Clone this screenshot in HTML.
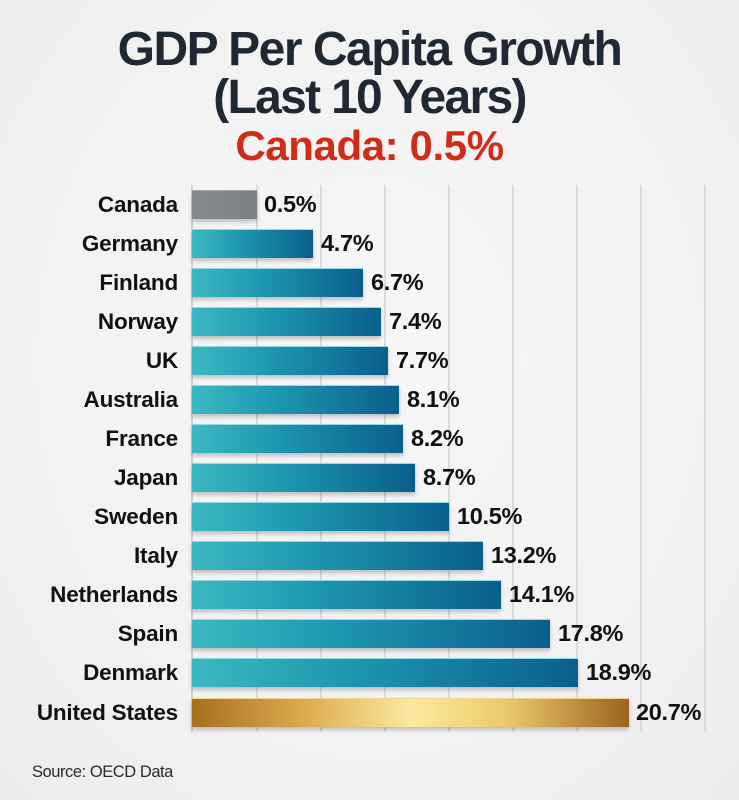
<!DOCTYPE html>
<html>
<head>
<meta charset="utf-8">
<style>
  html,body{margin:0;padding:0;}
  body{width:739px;height:800px;overflow:hidden;position:relative;
    background:radial-gradient(ellipse at 50% 45%, #f7f7f7 0%, #f2f2f2 60%, #ececec 100%);
    font-family:"Liberation Sans", Arial, sans-serif;}
  .t{position:absolute;left:0;width:739px;text-align:center;font-weight:bold;white-space:nowrap;}
  .t1{top:26px;font-size:48px;line-height:48px;letter-spacing:-1.5px;color:#1f2833;}
  .t2{top:74px;font-size:48px;line-height:48px;letter-spacing:-1.7px;color:#1f2833;}
  .t3{top:125px;font-size:42px;line-height:42px;letter-spacing:-0.4px;color:#d42a18;}
  .grid{position:absolute;top:185px;height:547px;width:1.5px;background:#dadada;}
  .lab{position:absolute;right:561px;height:29px;line-height:29px;font-size:22.5px;font-weight:bold;color:#111;letter-spacing:-0.2px;white-space:nowrap;text-align:right;}
  .val{position:absolute;height:29px;line-height:29px;font-size:23.5px;font-weight:bold;color:#111;letter-spacing:-0.3px;white-space:nowrap;}
  .bar{position:absolute;left:192px;height:29px;box-sizing:border-box;
    background:linear-gradient(90deg,#3cb7c0 0%,#1c93ae 45%,#0a5f8c 100%);
    border-top:1px solid #8fdbe3;
    box-shadow:0 3px 4px rgba(0,0,0,0.22);}
  .gray{background:linear-gradient(90deg,#858a8f,#7a8085);border-top:1px solid #a3a8ac;}
  .gold{background:linear-gradient(90deg,#a86e22 0%,#d9a94a 25%,#fbe9a0 50%,#ebc969 72%,#9a6320 100%);border-top:1px solid #f3d58a;}
  .src{position:absolute;left:32px;top:764px;font-size:16.5px;line-height:17px;color:#2a2a2a;letter-spacing:-0.45px;}
</style>
</head>
<body>
<div class="t t1">GDP Per Capita Growth</div>
<div class="t t2">(Last 10 Years)</div>
<div class="t t3">Canada: 0.5%</div>

<div class="grid" style="left:191px;background:#cfcfcf;"></div>
<div class="grid" style="left:256px;"></div>
<div class="grid" style="left:320px;"></div>
<div class="grid" style="left:384px;"></div>
<div class="grid" style="left:448px;"></div>
<div class="grid" style="left:512px;"></div>
<div class="grid" style="left:576px;"></div>
<div class="grid" style="left:640px;"></div>
<div class="grid" style="left:704px;"></div>

<div class="lab" style="top:190px;">Canada</div>
<div class="bar gray" style="top:190px;width:65px;"></div>
<div class="val" style="top:190px;left:264px;">0.5%</div>

<div class="lab" style="top:229px;">Germany</div>
<div class="bar" style="top:229px;width:121px;"></div>
<div class="val" style="top:229px;left:321px;">4.7%</div>

<div class="lab" style="top:268px;">Finland</div>
<div class="bar" style="top:268px;width:171px;"></div>
<div class="val" style="top:268px;left:371px;">6.7%</div>

<div class="lab" style="top:307px;">Norway</div>
<div class="bar" style="top:307px;width:189px;"></div>
<div class="val" style="top:307px;left:389px;">7.4%</div>

<div class="lab" style="top:346px;">UK</div>
<div class="bar" style="top:346px;width:196px;"></div>
<div class="val" style="top:346px;left:396px;">7.7%</div>

<div class="lab" style="top:385px;">Australia</div>
<div class="bar" style="top:385px;width:207px;"></div>
<div class="val" style="top:385px;left:407px;">8.1%</div>

<div class="lab" style="top:424px;">France</div>
<div class="bar" style="top:424px;width:211px;"></div>
<div class="val" style="top:424px;left:411px;">8.2%</div>

<div class="lab" style="top:463px;">Japan</div>
<div class="bar" style="top:463px;width:223px;"></div>
<div class="val" style="top:463px;left:423px;">8.7%</div>

<div class="lab" style="top:502px;">Sweden</div>
<div class="bar" style="top:502px;width:257px;"></div>
<div class="val" style="top:502px;left:457px;">10.5%</div>

<div class="lab" style="top:541px;">Italy</div>
<div class="bar" style="top:541px;width:291px;"></div>
<div class="val" style="top:541px;left:491px;">13.2%</div>

<div class="lab" style="top:580px;">Netherlands</div>
<div class="bar" style="top:580px;width:309px;"></div>
<div class="val" style="top:580px;left:509px;">14.1%</div>

<div class="lab" style="top:619px;">Spain</div>
<div class="bar" style="top:619px;width:358px;"></div>
<div class="val" style="top:619px;left:558px;">17.8%</div>

<div class="lab" style="top:658px;">Denmark</div>
<div class="bar" style="top:658px;width:386px;"></div>
<div class="val" style="top:658px;left:586px;">18.9%</div>

<div class="lab" style="top:698px;">United States</div>
<div class="bar gold" style="top:698px;width:437px;"></div>
<div class="val" style="top:698px;left:636px;">20.7%</div>

<div class="src">Source: OECD Data</div>
</body>
</html>
